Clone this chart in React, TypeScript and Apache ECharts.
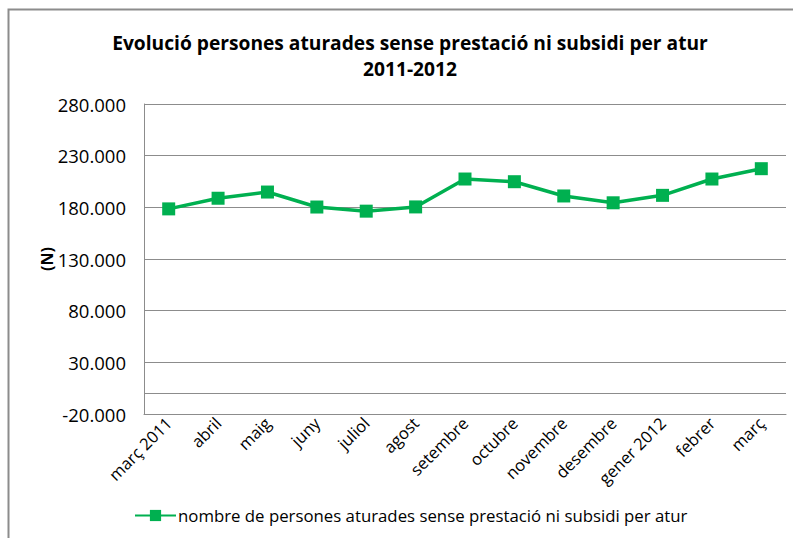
import React, { useEffect, useRef } from "react";
import * as echarts from "echarts";

const categories = [
  "març 2011", "abril", "maig", "juny", "juliol", "agost", "setembre",
  "octubre", "novembre", "desembre", "gener 2012", "febrer", "març",
];
const values = [
  178500, 188800, 194800, 180300, 176300, 180400, 207400,
  204800, 191000, 184400, 191600, 207400, 217400,
];
const seriesName = "nombre de persones aturades sense prestació ni subsidi per atur";
const titleLines = ["Evolució persones aturades sense prestació ni subsidi per atur", "2011-2012"];
const yMin = -20000;
const yMax = 280000;
const yStep = 50000;

const FONT = "'Open Sans', sans-serif";
const GREEN = "#00B050";

function fmt(v: number): string {
  const neg = v < 0;
  const s = Math.abs(v).toString().replace(/\B(?=(\d{3})+(?!\d))/g, ".");
  return (neg ? "-" : "") + s;
}

export default function App() {
  const ref = useRef<HTMLDivElement>(null);
  useEffect(() => {
    if (!ref.current) return;
    const chart = echarts.init(ref.current, null, { renderer: "svg" });
    chart.setOption({
      animation: false,
      backgroundColor: "#fff",
      textStyle: { fontFamily: FONT },
      graphic: [
        {
          type: "rect",
          shape: { x: 8.5, y: 9.5, width: 800, height: 560 },
          style: { fill: "none", stroke: "#8c8c8c", lineWidth: 2 },
          silent: true,
        },
        {
          type: "text",
          x: 410,
          y: 42,
          style: {
            text: titleLines[0],
            fontFamily: FONT,
            fontSize: 19.2,
            fontWeight: "bold",
            fill: "#000",
            align: "center",
            verticalAlign: "middle",
          },
        },
        {
          type: "text",
          x: 410,
          y: 68,
          style: {
            text: titleLines[1],
            fontFamily: FONT,
            fontSize: 19.2,
            fontWeight: "bold",
            fill: "#000",
            align: "center",
            verticalAlign: "middle",
          },
        },
      ],
      grid: { left: 144, top: 104, right: 7, bottom: 124, containLabel: false },
      legend: {
        left: 134,
        top: 507,
        padding: 0,
        itemWidth: 41,
        itemHeight: 14,
        itemGap: 0,
        textStyle: { fontFamily: FONT, fontSize: 16.8, color: "#000", padding: [0, 0, 0, -3] },
        data: [seriesName],
      },
      xAxis: {
        type: "category",
        data: categories,
        boundaryGap: true,
        axisLine: { onZero: false, lineStyle: { color: "#8c8c8c", width: 1 } },
        axisTick: { show: false },
        axisLabel: { rotate: 45, fontFamily: FONT, fontSize: 16.5, color: "#000", margin: 6, interval: 0 },
      },
      yAxis: {
        type: "value",
        min: yMin,
        max: yMax,
        interval: yStep,
        name: "(N)",
        nameLocation: "middle",
        nameGap: 89,
        nameRotate: 90,
        nameMoveOverlap: false,
        nameTextStyle: { fontFamily: FONT, fontSize: 16, fontWeight: "bold", color: "#000" },
        axisLine: { show: true, lineStyle: { color: "#8c8c8c", width: 1 } },
        axisTick: { show: false },
        splitLine: { show: true, lineStyle: { color: "#8c8c8c", width: 1 } },
        axisLabel: { formatter: (v: number) => fmt(v), fontFamily: FONT, fontSize: 18.5, color: "#000", margin: 18 },
      },
      series: [
        {
          name: seriesName,
          type: "line",
          data: values,
          symbol: "rect",
          symbolSize: 13,
          itemStyle: { color: GREEN },
          lineStyle: { color: GREEN, width: 3.5 },
          markLine: {
            silent: true,
            symbol: "none",
            label: { show: false },
            lineStyle: { color: "#8c8c8c", width: 1, type: "solid" },
            data: [{ yAxis: 0 }],
          },
        },
      ],
    });
    return () => chart.dispose();
  }, []);
  return <div ref={ref} style={{ position: "absolute", left: 0, top: 0, width: 793, height: 538 }} />;
}
